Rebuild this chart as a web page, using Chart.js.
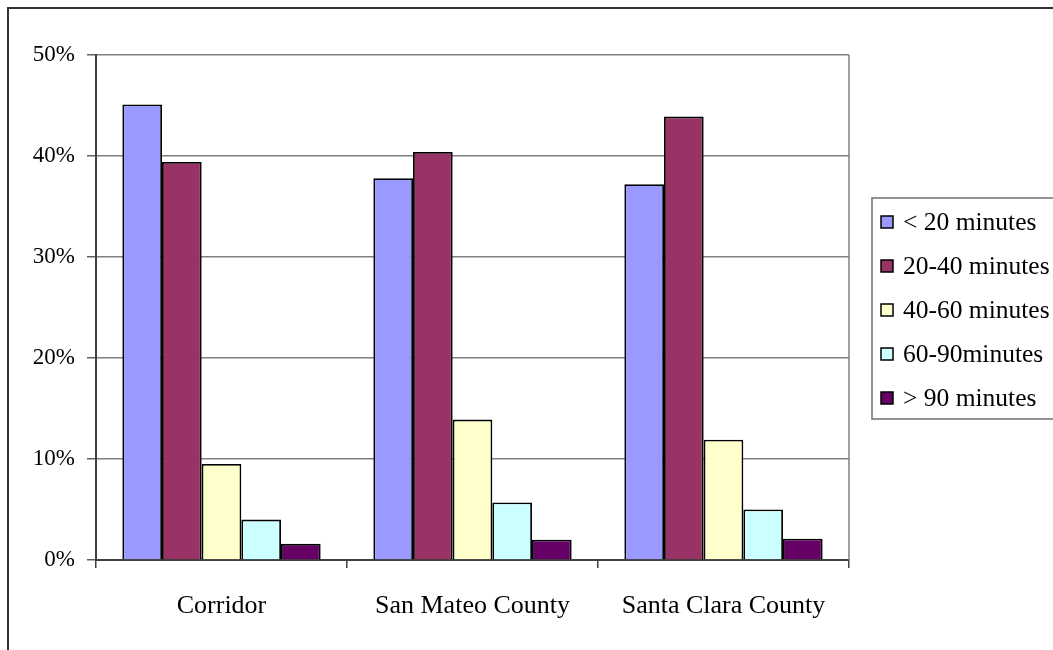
<!DOCTYPE html>
<html>
<head>
<meta charset="utf-8">
<script src="https://cdn.jsdelivr.net/npm/chart.js@4/dist/chart.umd.min.js"></script>
<style>
  html, body { margin: 0; padding: 0; background: #fff; }
  #wrap { width: 1053px; height: 650px; position: relative; }
</style>
</head>
<body>
<div id="wrap"><canvas id="c" width="1053" height="650"></canvas></div>
<script>
// Commute time shares by area (percent of commuters)
const categories = ['Corridor', 'San Mateo County', 'Santa Clara County'];
const seriesNames = ['< 20 minutes', '20-40 minutes', '40-60 minutes', '60-90minutes', '> 90 minutes'];
const under20 = [45.1, 37.8, 37.2];
const from20to40 = [39.4, 40.4, 43.9];
const from40to60 = [9.5, 13.9, 11.9];
const from60to90 = [4.0, 5.7, 5.0];
const over90 = [1.6, 2.0, 2.1];
const yTickValues = [0, 10, 20, 30, 40, 50];

const seriesValues = [under20, from20to40, from40to60, from60to90, over90];
const seriesColors = ['#9999FF', '#993366', '#FFFFCC', '#CCFFFF', '#660066'];
const FONT = '"Liberation Serif", "Times New Roman", serif';

Chart.defaults.font.family = FONT;
Chart.defaults.color = '#000';

// Frame around the whole chart, right edge of the plot area and the legend box
const decorations = {
  id: 'decorations',
  afterDraw(chart) {
    const { ctx, chartArea } = chart;
    ctx.save();
    // plot area right border
    ctx.strokeStyle = '#808080';
    ctx.lineWidth = 1.5;
    ctx.beginPath();
    ctx.moveTo(chartArea.right, chartArea.top);
    ctx.lineTo(chartArea.right, chartArea.bottom);
    ctx.stroke();

    // outer frame
    ctx.strokeStyle = '#333';
    ctx.lineWidth = 2;
    ctx.strokeRect(8, 8, 1100, 700);

    // legend
    const lx = 872, ly = 198, lw = 200, lh = 221;
    ctx.strokeStyle = '#707070';
    ctx.lineWidth = 1.5;
    ctx.strokeRect(lx, ly, lw, lh);
    ctx.font = '25.5px ' + FONT;
    ctx.textBaseline = 'middle';
    ctx.textAlign = 'left';
    chart.data.datasets.forEach((ds, i) => {
      const cy = 222 + i * 44;
      ctx.fillStyle = ds.backgroundColor;
      ctx.fillRect(881, cy - 6, 12, 12);
      ctx.strokeStyle = '#000';
      ctx.lineWidth = 1.5;
      ctx.strokeRect(881, cy - 6, 12, 12);
      ctx.fillStyle = '#000';
      ctx.fillText(ds.label, 903, cy + 1);
    });
    ctx.restore();
  }
};

new Chart(document.getElementById('c'), {
  type: 'bar',
  data: {
    labels: categories,
    datasets: seriesNames.map((name, i) => ({
      label: name,
      data: seriesValues[i],
      backgroundColor: seriesColors[i],
      borderColor: '#000',
      borderWidth: 1.8,
      categoryPercentage: 0.79,
      barPercentage: 1.0
    }))
  },
  options: {
    responsive: false,
    animation: false,
    devicePixelRatio: 1,
    layout: { padding: { left: 0, top: 55, right: 204, bottom: 0 } },
    plugins: {
      legend: { display: false },
      tooltip: { enabled: false }
    },
    scales: {
      x: {
        offset: true,
        grid: {
          offset: true,
          drawOnChartArea: false,
          drawTicks: true,
          tickLength: 8,
          color: '#404040',
          lineWidth: 1.5
        },
        border: { color: '#404040', width: 2 },
        ticks: {
          font: { size: 26, family: FONT },
          color: '#000',
          padding: 23,
          maxRotation: 0
        },
        afterFit(scale) { scale.height = 90; }
      },
      y: {
        min: 0,
        max: 50,
        afterBuildTicks(scale) {
          scale.ticks = yTickValues.map(v => ({ value: v }));
        },
        grid: {
          color: '#808080',
          lineWidth: 1.5,
          tickLength: 9,
          tickColor: '#606060'
        },
        border: { color: '#404040', width: 2 },
        ticks: {
          font: { size: 23, family: FONT },
          color: '#000',
          padding: 12,
          callback: v => v + '%'
        },
        afterFit(scale) { scale.width = 96; }
      }
    }
  },
  plugins: [decorations]
});
</script>
</body>
</html>
